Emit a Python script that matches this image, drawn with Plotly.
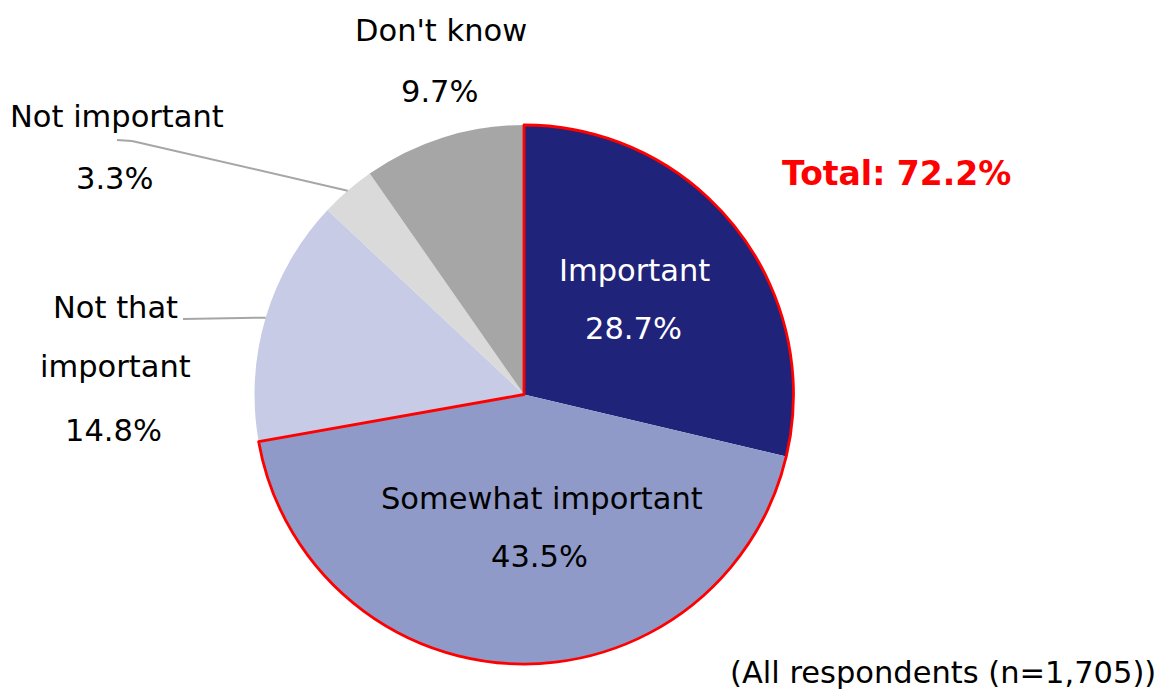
import math
import plotly.graph_objects as go

labels = ["Important", "Somewhat important", "Not that important", "Not important", "Don't know"]
values = [28.7, 43.5, 14.8, 3.3, 9.7]
colors = ["#1F237A", "#8F9AC8", "#C7CBE5", "#DADADA", "#A6A6A6"]
total_label = "Total: 72.2%"
note = "(All respondents (n=1,705))"

W, H = 1161, 691
CX, CY, R = 524, 394.5, 269.5  # pie centre/radius in px

def px(x):
    return x / W

def py(y):
    return 1 - y / H

dom_x = [px(CX - R), px(CX + R)]
dom_y = [py(CY + R), py(CY - R)]

fig = go.Figure()
fig.add_trace(go.Pie(
    labels=labels, values=values, sort=False, direction="clockwise", rotation=0,
    marker=dict(colors=colors, line=dict(width=0)),
    textinfo="none", hoverinfo="label+percent", domain=dict(x=dom_x, y=dom_y),
    showlegend=False,
))
# red outline around the first two slices combined
top2 = values[0] + values[1]
rest = sum(values) - top2
fig.add_trace(go.Pie(
    values=[top2, rest], sort=False, direction="clockwise", rotation=0,
    marker=dict(colors=["rgba(0,0,0,0)", "rgba(0,0,0,0)"],
                line=dict(color=["#FF0000", "rgba(0,0,0,0)"], width=[2.8, 0])),
    textinfo="none", hoverinfo="skip", domain=dict(x=dom_x, y=dom_y),
    showlegend=False,
))

FONT = "DejaVu Sans"
FS = 30.5
total = sum(values)

def mid_angle(i):
    start = sum(values[:i]) / total * 360
    return start + values[i] / total * 360 / 2

def edge(i):
    a = math.radians(mid_angle(i))
    return CX + R * math.sin(a), CY - R * math.cos(a)

anns = []
def txt(x, y, s, color="black", size=FS, bold=False, xanchor="center"):
    if bold:
        s = "<b>" + s + "</b>"
    anns.append(dict(x=px(x), y=py(y), xref="paper", yref="paper", text=s, showarrow=False,
                     xanchor=xanchor, yanchor="middle", font=dict(family=FONT, size=size, color=color)))

pct = [f"{v:.1f}%" for v in values]
txt(634, 270, labels[0], color="white")
txt(633, 329, pct[0], color="white")
txt(542, 498, labels[1])
txt(539, 556, pct[1])
txt(115, 307, "Not that")
txt(115, 367, "important")
txt(113, 430, pct[2])
txt(117, 117, labels[3])
txt(115, 178, pct[3])
txt(441, 30, labels[4])
txt(440, 91, pct[4])
txt(896, 174, total_label, color="#FF0000", size=33, bold=True)
txt(1158, 672, note, xanchor="right")

shapes = []
def seg(x0, y0, x1, y1):
    shapes.append(dict(type="line", xref="paper", yref="paper", x0=px(x0), y0=py(y0),
                       x1=px(x1), y1=py(y1), line=dict(color="#A6A6A6", width=2)))

ex, ey = edge(3)
seg(117, 140, 132, 141)
seg(132, 141, ex, ey)
ex, ey = edge(2)
seg(183, 319, ex, ey)

fig.update_layout(width=W, height=H, margin=dict(l=0, r=0, t=0, b=0),
                  paper_bgcolor="white", plot_bgcolor="white",
                  annotations=anns, shapes=shapes)
fig.write_html("out.html")
